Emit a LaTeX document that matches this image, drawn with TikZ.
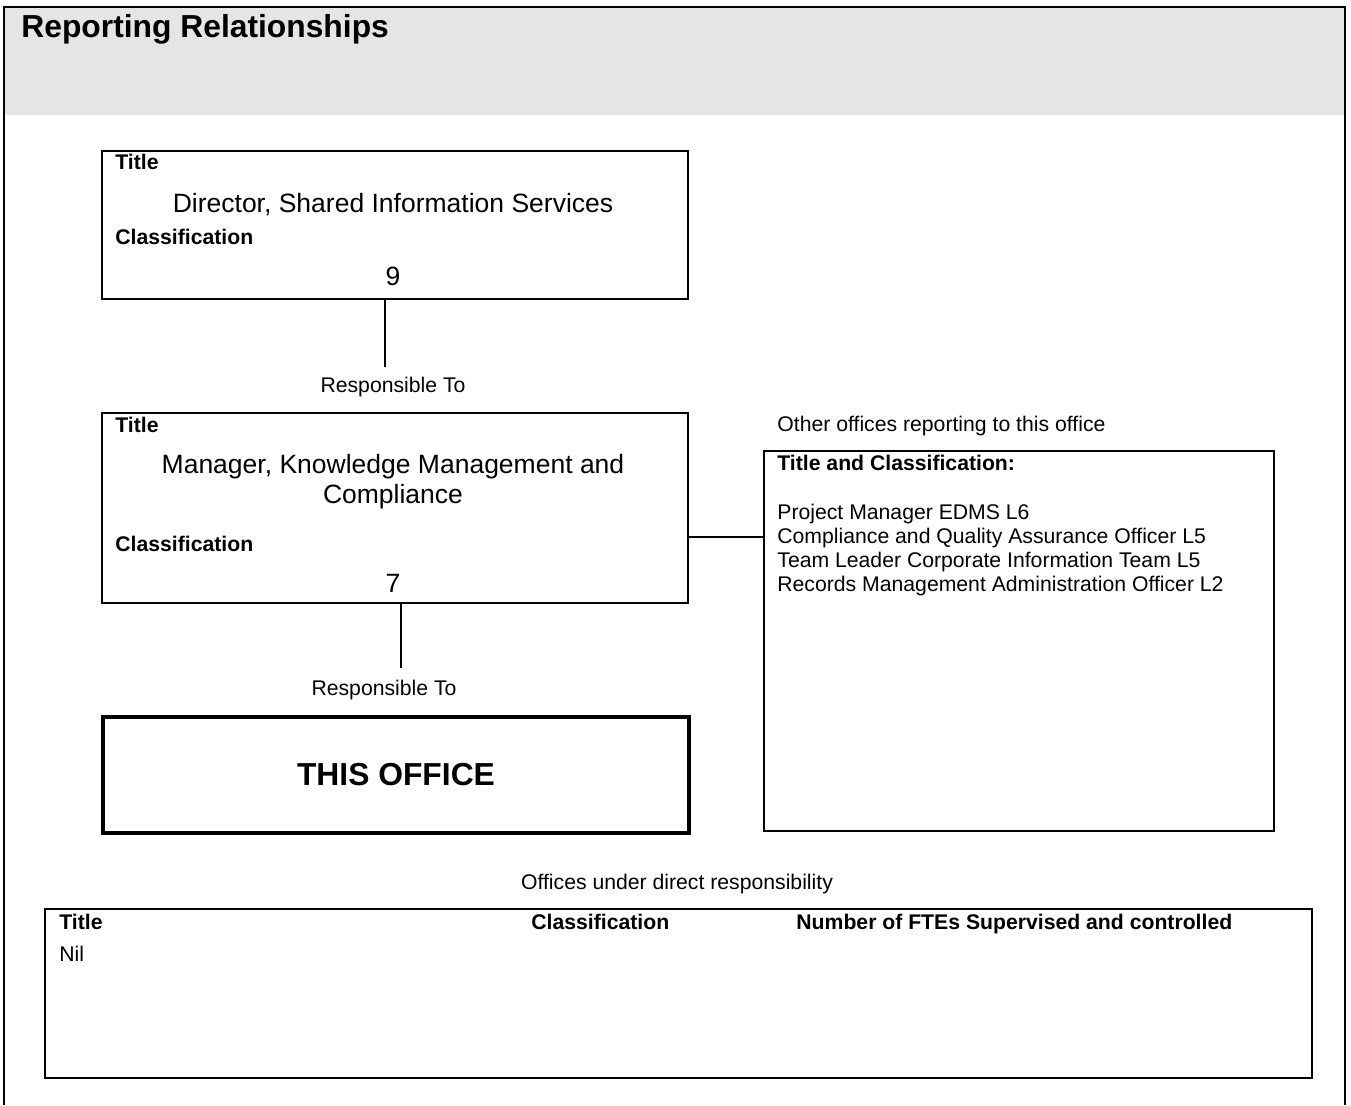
\documentclass[tikz,border=0pt]{standalone}
\usepackage{fontspec}
\setmainfont{Liberation Sans}
\usepackage{xcolor}
\usetikzlibrary{calc, positioning}

\definecolor{hdrgray}{RGB}{229,229,229}
\newcommand{\lblfont}{\fontsize{10.6}{12}\selectfont}
\newcommand{\namefont}{\fontsize{13.25}{15}\selectfont}
\newcommand{\headfont}{\fontsize{15.9}{18}\selectfont}

\begin{document}
\begin{tikzpicture}[x=0.5pt, y=-0.5pt,
    box/.style={draw, line width=1pt, anchor=north west, inner sep=0pt},
    txt/.style={inner sep=0pt, font=\lblfont},
    bold/.style={inner sep=0pt, font=\lblfont\bfseries},
    posname/.style={inner sep=0pt, font=\namefont, anchor=base}]
\useasboundingbox (0,0) rectangle (1351,1105);

% page frame and header band
\fill[hdrgray] (4,7) rectangle (1345,115);
\draw[line width=1pt] (4,1105) -- (4,7) -- (1345,7) -- (1345,1105);
\node[inner sep=0pt, anchor=base west, font=\headfont\bfseries] (hdr) at (21,37)
    {Reporting Relationships};

% boxes
\node[box, minimum width=293pt, minimum height=74pt] (dir) at (101,150) {};
\node[box, minimum width=293pt, minimum height=95pt] (mgr) at (101,412) {};
\node[box, line width=2pt, minimum width=293pt, minimum height=58pt] (office) at (101,715) {};
\node[box, minimum width=255pt, minimum height=190pt] (others) at (763,450) {};
\node[box, minimum width=633.5pt, minimum height=84.5pt] (under) at (44,908) {};

% director
\node[bold, anchor=base west] (dirT) at (115,169) {Title};
\node[posname] (dirName) at (393,212) {Director, Shared Information Services};
\node[bold, anchor=base west] (dirC) at (115,244) {Classification};
\node[posname] (dirLvl) at (393,285) {9};

% manager
\node[bold, anchor=base west] (mgrT) at (115,432) {Title};
\node[posname] (mgrName1) at (393,473) {Manager, Knowledge Management and};
\node[posname] (mgrName2) at (393,503) {Compliance};
\node[bold, anchor=base west] (mgrC) at (115,551) {Classification};
\node[posname] (mgrLvl) at (393,592) {7};

% this office
\node[inner sep=0pt, font=\headfont\bfseries] (officeT) at (office.center) {THIS OFFICE};

% responsible to
\node[txt, anchor=base] (resp1) at (393,392) {Responsible To};
\node[txt, anchor=base] (resp2) at (384,695) {Responsible To};
\coordinate (r1top) at (385,298);
\coordinate (r1bot) at (385,367);
\coordinate (r2top) at (401,602);
\coordinate (r2bot) at (401,668);
\draw[line width=1pt] (r1top) -- (r1bot);
\draw[line width=1pt] (r2top) -- (r2bot);

% other offices
\node[txt, anchor=base west] (othersCap) at (777,431) {Other offices reporting to this office};
\node[bold, anchor=base west] (othersT) at (777,470) {Title and Classification:};
\node[txt, anchor=base west] (o1) at (777,519) {Project Manager EDMS L6};
\node[txt, anchor=base west] (o2) at (777,543) {Compliance and Quality Assurance Officer L5};
\node[txt, anchor=base west] (o3) at (777,567) {Team Leader Corporate Information Team L5};
\node[txt, anchor=base west] (o4) at (777,591) {Records Management Administration Officer L2};
\coordinate (lnk) at (725,537);
\draw[line width=1pt] (mgr.east |- lnk) -- (others.west |- lnk);

% offices under direct responsibility
\node[txt, anchor=base] (underCap) at (677,889) {Offices under direct responsibility};
\node[bold, anchor=base west] (uT) at (59,929) {Title};
\node[bold, anchor=base west] (uC) at (531,929) {Classification};
\node[bold, anchor=base west] (uN) at (796,929) {Number of FTEs Supervised and controlled};
\node[txt, anchor=base west] (uNil) at (59,961) {Nil};
\end{tikzpicture}
\end{document}
